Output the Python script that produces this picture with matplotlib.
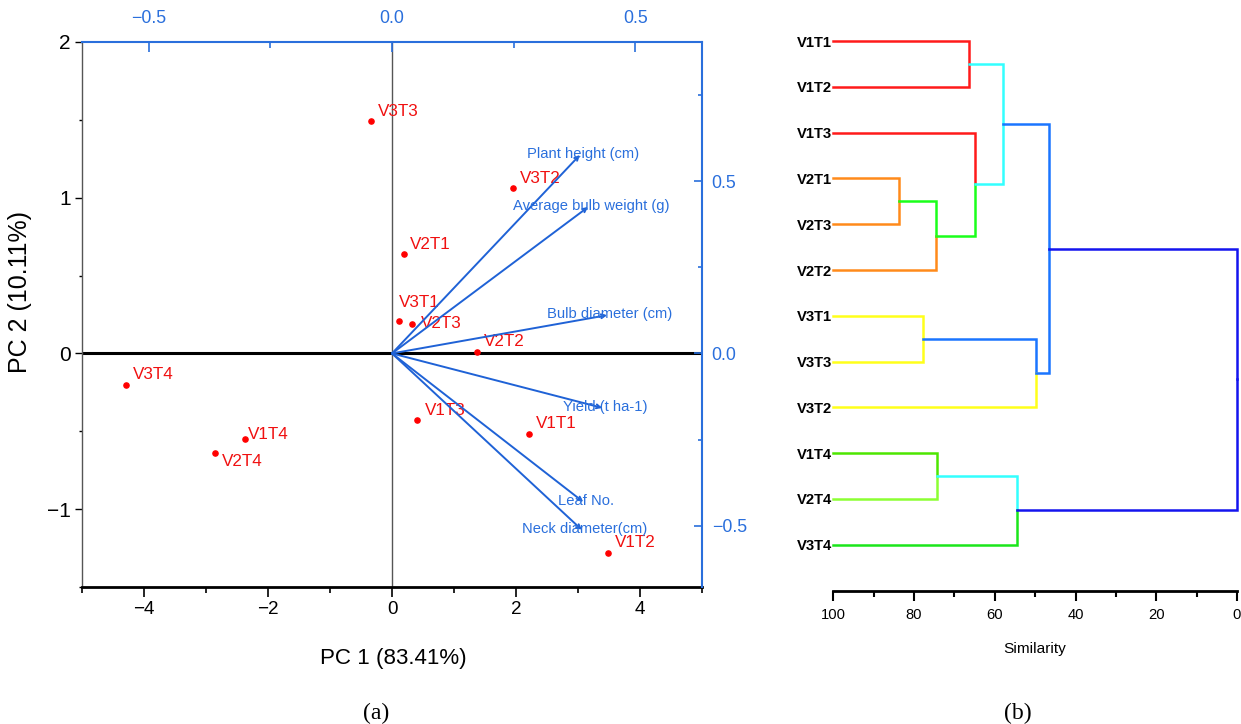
import matplotlib

matplotlib.use("Agg")
import matplotlib.pyplot as plt
from matplotlib import font_manager
from matplotlib.ticker import MultipleLocator

# PCA scores (PC1, PC2)
samples = ["V1T1", "V1T2", "V1T3", "V1T4", "V2T1", "V2T2", "V2T3", "V2T4", "V3T1", "V3T2", "V3T3", "V3T4"]
pc1 = [2.21, 3.48, 0.41, -2.37, 0.19, 1.37, 0.33, -2.85, 0.11, 1.95, -0.34, -4.29]
pc2 = [-0.52, -1.28, -0.43, -0.55, 0.64, 0.01, 0.19, -0.64, 0.21, 1.06, 1.49, -0.20]

# trait loadings (top / right axes)
traits = ["Plant height (cm)", "Average bulb weight (g)", "Bulb diameter (cm)",
          "Yield (t ha-1)", "Leaf No.", "Neck diameter(cm)"]
load1 = [0.386, 0.403, 0.442, 0.432, 0.393, 0.390]
load2 = [0.576, 0.425, 0.111, -0.158, -0.431, -0.512]

# cluster dendrogram (similarity %)
leaf_order = ["V1T1", "V1T2", "V1T3", "V2T1", "V2T3", "V2T2", "V3T1", "V3T3", "V3T2", "V1T4", "V2T4", "V3T4"]
merge_nodes = ["A", "B", "C", "D", "E", "F", "G", "H", "I", "J", "K"]
merge_left = ["V1T1", "V2T1", "B", "V1T3", "A", "V3T1", "F", "E", "V1T4", "I", "H"]
merge_right = ["V1T2", "V2T3", "V2T2", "C", "D", "V3T3", "V3T2", "G", "V2T4", "V3T4", "J"]
merge_sim = [66.4, 83.7, 74.6, 64.9, 57.9, 77.9, 49.7, 46.6, 74.4, 54.5, 0.0]

RED = "#ff1a1a"
ORANGE = "#ff8a1a"
YELLOW = "#ffff1a"
CYAN = "#33ffff"
BLUE = "#1a75ff"
DKBLUE = "#1414ee"
branch_colors = {
    "V1T1": RED, "V1T2": RED, "V1T3": RED,
    "V2T1": ORANGE, "V2T3": ORANGE, "V2T2": ORANGE,
    "V3T1": YELLOW, "V3T3": YELLOW, "V3T2": YELLOW,
    "V1T4": "#4de600", "V2T4": "#8cff33", "V3T4": "#1ae61a",
    "A": CYAN, "B": "#1aff1a", "C": "#1aff1a", "D": CYAN, "E": BLUE,
    "F": BLUE, "G": BLUE, "H": DKBLUE, "I": CYAN, "J": DKBLUE, "K": DKBLUE,
}

# label offsets in pixels (dx, dy) from each dot
label_offsets = {
    "V3T3": (7, 10), "V2T1": (6, 9), "V3T2": (7, 10), "V3T4": (7, 10),
    "V1T4": (3, 5), "V2T4": (7, -8), "V3T1": (0, 18), "V2T3": (8, 0),
    "V2T2": (7, 10), "V1T3": (8, 10), "V1T1": (7, 11), "V1T2": (7, 10),
}

available = {f.name for f in font_manager.fontManager.ttflist}
HAS_NARROW = "Liberation Sans Narrow" in available
NARROW = "Liberation Sans Narrow" if HAS_NARROW else "Liberation Sans"
K = 1.0 if HAS_NARROW else 0.85  # shrink sizes when the narrow face is missing
SANS = "Liberation Sans"
LOAD_BLUE = "#2a6fdc"

plt.rcParams.update({"font.family": SANS, "axes.linewidth": 1.0})

fig = plt.figure(figsize=(12.41, 7.24), dpi=100)

# ---- (a) PCA biplot ----
rect = [82 / 1241, 1 - 587 / 724, 620 / 1241, 545 / 724]
ax = fig.add_axes(rect)
ax.set_xlim(-5, 5)
ax.set_ylim(-1.5, 2)
ax.axhline(0, color="black", lw=2.2, zorder=1)
ax.axvline(0, color="#555555", lw=1.0, zorder=1)
ax.scatter(pc1, pc2, s=14, color="#ff0000", zorder=3)
for name, x, y in zip(samples, pc1, pc2):
    ax.annotate(name, (x, y), xytext=label_offsets[name], textcoords="offset pixels",
                ha="left", va="center", color="#f01010", fontsize=14.5 * K, family=NARROW, zorder=4)

ax.spines["top"].set_visible(False)
ax.spines["right"].set_visible(False)
ax.spines["bottom"].set_linewidth(2.0)
ax.spines["left"].set_color("#555555")
ax.xaxis.set_major_locator(MultipleLocator(2))
ax.xaxis.set_minor_locator(MultipleLocator(1))
ax.yaxis.set_major_locator(MultipleLocator(1))
ax.yaxis.set_minor_locator(MultipleLocator(0.5))
ax.tick_params(axis="x", which="major", direction="out", length=7, width=1.2, pad=3, labelsize=16 * K)
ax.tick_params(axis="x", which="minor", direction="out", length=4, width=1.2)
ax.tick_params(axis="y", which="major", direction="out", length=5, width=1.0, pad=3, labelsize=15)
ax.tick_params(axis="y", which="minor", direction="out", length=2.5, width=1.0)
for lab in ax.get_xticklabels():
    lab.set_family(NARROW)
ax.set_xlabel("PC 1 (83.41%)", fontsize=19 * K, family=NARROW)
ax.xaxis.set_label_coords(0.502, -0.132)
ax.xaxis.label.set_va("center")
ax.set_ylabel("PC 2 (10.11%)", fontsize=18)
ax.yaxis.set_label_coords(-0.1, 0.541)
ax.yaxis.label.set_va("center")

axl = fig.add_axes(rect, facecolor="none")
axl.set_xlim(-0.637, 0.637)
axl.set_ylim(-0.678, 0.904)
for side in ["bottom", "left"]:
    axl.spines[side].set_visible(False)
for side in ["top", "right"]:
    axl.spines[side].set_color(LOAD_BLUE)
    axl.spines[side].set_linewidth(1.5)
axl.xaxis.tick_top()
axl.yaxis.tick_right()
axl.xaxis.set_major_locator(MultipleLocator(0.5))
axl.xaxis.set_minor_locator(MultipleLocator(0.25))
axl.yaxis.set_major_locator(MultipleLocator(0.5))
axl.yaxis.set_minor_locator(MultipleLocator(0.25))
axl.tick_params(axis="x", which="major", direction="in", length=7, width=1.2, pad=11,
                colors=LOAD_BLUE, labelsize=15 * K)
axl.tick_params(axis="x", which="minor", direction="in", length=4, width=1.2, colors=LOAD_BLUE)
axl.tick_params(axis="y", which="major", direction="in", length=6, width=1.2, pad=7,
                colors=LOAD_BLUE, labelsize=15 * K)
axl.tick_params(axis="y", which="minor", direction="in", length=3, width=1.2, colors=LOAD_BLUE)
axl.xaxis.set_major_formatter(lambda v, p: f"{v:.1f}".replace("-", "\u2212"))
axl.yaxis.set_major_formatter(lambda v, p: f"{v:.1f}".replace("-", "\u2212"))
for lab in axl.get_xticklabels() + axl.get_yticklabels():
    lab.set_family(NARROW)

for name, lx, ly in zip(traits, load1, load2):
    axl.annotate("", xy=(lx, ly), xytext=(0, 0),
                 arrowprops=dict(arrowstyle="->", color="#1f62d6", lw=1.4,
                                 mutation_scale=7, shrinkA=0, shrinkB=0))
    axl.annotate(name, (lx, ly), xytext=(3, 1), textcoords="offset pixels",
                 ha="center", va="center", color=LOAD_BLUE, fontsize=12.5 * K, family=NARROW)

# ---- (b) dendrogram ----
axd = fig.add_axes([833.3 / 1241, 1 - 591 / 724, (1237 - 833.3) / 1241, 571 / 724])
axd.set_xlim(100, 0)
axd.set_ylim(12.01, -0.46)

pos = {name: (100.0, float(i)) for i, name in enumerate(leaf_order)}
for node, left, right, sim in zip(merge_nodes, merge_left, merge_right, merge_sim):
    ny = (pos[left][1] + pos[right][1]) / 2
    for child in (left, right):
        cx, cy = pos[child]
        axd.plot([cx, sim, sim], [cy, cy, ny], color=branch_colors[child], lw=1.8,
                 solid_joinstyle="miter", clip_on=False)
    pos[node] = (sim, ny)

for side in ["top", "right", "left"]:
    axd.spines[side].set_visible(False)
axd.spines["bottom"].set_linewidth(2.0)
axd.set_yticks(range(len(leaf_order)))
axd.set_yticklabels(leaf_order, fontsize=12.5 * K, fontweight="bold", family=NARROW)
axd.tick_params(axis="y", length=0, pad=1)
axd.xaxis.set_major_locator(MultipleLocator(20))
axd.xaxis.set_minor_locator(MultipleLocator(10))
axd.tick_params(axis="x", which="major", direction="out", length=7.5, width=1.5, pad=5,
                labelsize=12.5 * K)
axd.tick_params(axis="x", which="minor", direction="out", length=4, width=1.5)
for lab in axd.get_xticklabels():
    lab.set_family(NARROW)
axd.set_xlabel("Similarity", fontsize=13 * K, family=NARROW)
axd.xaxis.set_label_coords(0.499, -0.102)
axd.xaxis.label.set_va("center")

fig.text(376 / 1241, 1 - 713 / 724, "(a)", ha="center", va="center", fontsize=17, family="Liberation Serif")
fig.text(1018 / 1241, 1 - 713 / 724, "(b)", ha="center", va="center", fontsize=17, family="Liberation Serif")

fig.savefig("out.png", dpi=100)
